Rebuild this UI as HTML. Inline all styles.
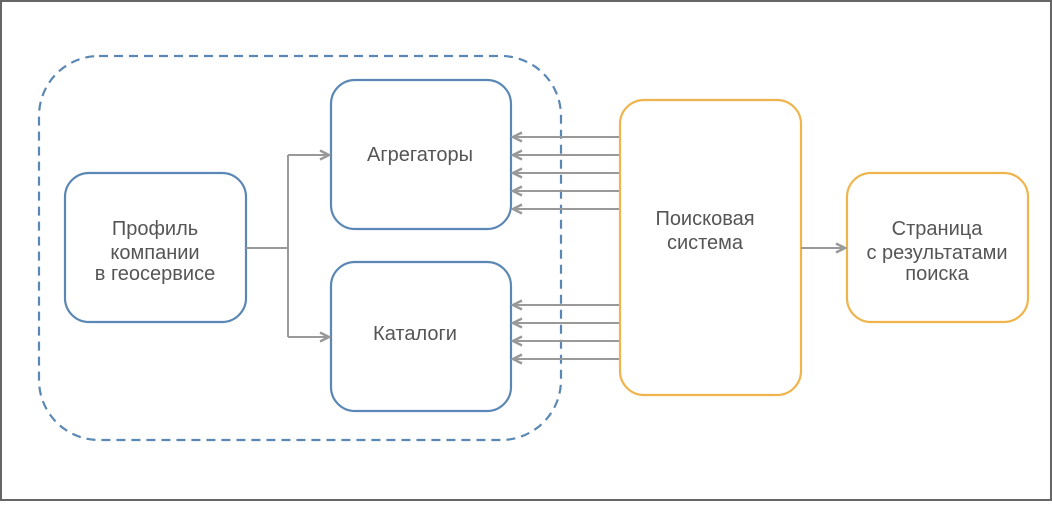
<!DOCTYPE html>
<html><head><meta charset="utf-8"><style>
body{margin:0;width:1052px;height:501px;overflow:hidden;background:#fff}
svg text{font-family:"Liberation Sans",sans-serif;font-size:20px;fill:#555}
</style></head><body>
<svg width="1052" height="501" viewBox="0 0 1052 501">
<defs><marker id="a" markerWidth="12" markerHeight="12" refX="10" refY="6" orient="auto" markerUnits="userSpaceOnUse"><path d="M1,1.5 L10,6 L1,10.5" fill="none" stroke="#999" stroke-width="2.4"/></marker></defs>
<rect x="1" y="1" width="1050" height="499" fill="#fff" stroke="#666" stroke-width="2"/>
<rect x="39" y="56" width="522" height="384" rx="60" fill="none" stroke="#5b87b5" stroke-width="2.2" stroke-dasharray="9,6"/>
<g fill="#fff" stroke="#5b87b5" stroke-width="2.2">
<rect x="65" y="173" width="181" height="149" rx="24"/>
<rect x="331" y="80" width="180" height="149" rx="24"/>
<rect x="331" y="262" width="180" height="149" rx="24"/>
</g>
<g fill="#fff" stroke="#f0b44c" stroke-width="2.2">
<rect x="620" y="100" width="181" height="295" rx="24"/>
<rect x="847" y="173" width="181" height="149" rx="24"/>
</g>
<g stroke="#999" stroke-width="2" fill="none">
<path d="M246,248 H288 M288,155 V337"/>
<path d="M288,155 H329" marker-end="url(#a)"/>
<path d="M288,337 H329" marker-end="url(#a)"/>
<path d="M801,248 H845" marker-end="url(#a)"/>
<path d="M619,137 H513" marker-end="url(#a)"/>
<path d="M619,155 H513" marker-end="url(#a)"/>
<path d="M619,173 H513" marker-end="url(#a)"/>
<path d="M619,191 H513" marker-end="url(#a)"/>
<path d="M619,209 H513" marker-end="url(#a)"/>
<path d="M619,305 H513" marker-end="url(#a)"/>
<path d="M619,323 H513" marker-end="url(#a)"/>
<path d="M619,341 H513" marker-end="url(#a)"/>
<path d="M619,359 H513" marker-end="url(#a)"/>
</g>
<g text-anchor="middle">
<text x="155" y="235">Профиль</text><text x="155" y="259">компании</text><text x="155" y="280">в геосервисе</text>
<text x="420" y="161">Агрегаторы</text>
<text x="415" y="340">Каталоги</text>
<text x="705" y="225">Поисковая</text><text x="705" y="249">система</text>
<text x="937" y="235">Страница</text><text x="937" y="259">с результатами</text><text x="937" y="280">поиска</text>
</g>
</svg>
</body></html>
